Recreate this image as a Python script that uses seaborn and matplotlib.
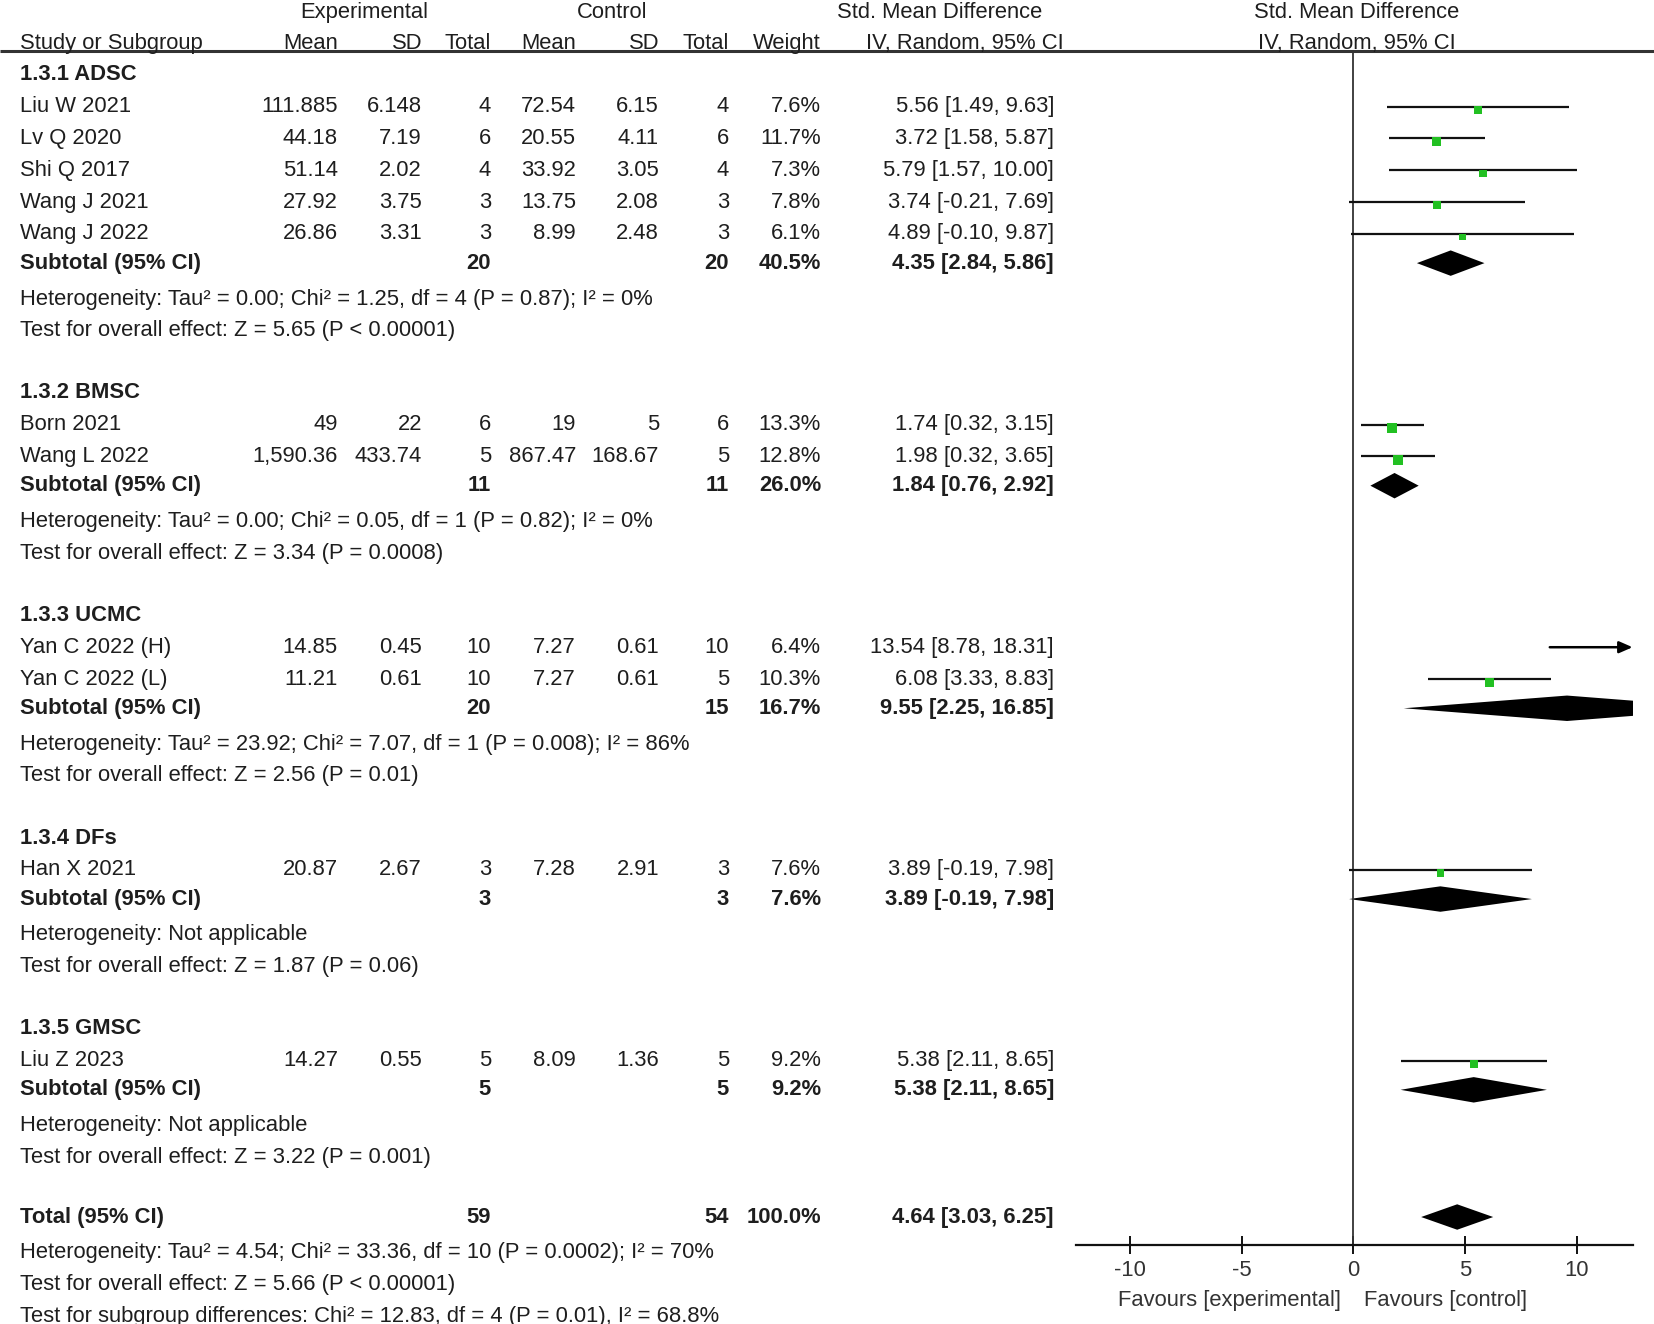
import matplotlib
matplotlib.use("Agg")
import matplotlib.pyplot as plt
import matplotlib.transforms as mtransforms
import seaborn as sns
import pandas as pd

# ---- data ----
group_names = ["1.3.1 ADSC", "1.3.2 BMSC", "1.3.3 UCMC", "1.3.4 DFs", "1.3.5 GMSC"]

study_names = ["Liu W 2021", "Lv Q 2020", "Shi Q 2017", "Wang J 2021", "Wang J 2022",
               "Born 2021", "Wang L 2022", "Yan C 2022 (H)", "Yan C 2022 (L)",
               "Han X 2021", "Liu Z 2023"]
study_group = [0, 0, 0, 0, 0, 1, 1, 2, 2, 3, 4]
exp_mean = ["111.885", "44.18", "51.14", "27.92", "26.86", "49", "1,590.36",
            "14.85", "11.21", "20.87", "14.27"]
exp_sd = ["6.148", "7.19", "2.02", "3.75", "3.31", "22", "433.74",
          "0.45", "0.61", "2.67", "0.55"]
exp_n = [4, 6, 4, 3, 3, 6, 5, 10, 10, 3, 5]
ctl_mean = ["72.54", "20.55", "33.92", "13.75", "8.99", "19", "867.47",
            "7.27", "7.27", "7.28", "8.09"]
ctl_sd = ["6.15", "4.11", "3.05", "2.08", "2.48", "5", "168.67",
          "0.61", "0.61", "2.91", "1.36"]
ctl_n = [4, 6, 4, 3, 3, 6, 5, 10, 5, 3, 5]
weight = [7.6, 11.7, 7.3, 7.8, 6.1, 13.3, 12.8, 6.4, 10.3, 7.6, 9.2]
smd = [5.56, 3.72, 5.79, 3.74, 4.89, 1.74, 1.98, 13.54, 6.08, 3.89, 5.38]
ci_lo = [1.49, 1.58, 1.57, -0.21, -0.10, 0.32, 0.32, 8.78, 3.33, -0.19, 2.11]
ci_hi = [9.63, 5.87, 10.00, 7.69, 9.87, 3.15, 3.65, 18.31, 8.83, 7.98, 8.65]

sub_exp_n = [20, 11, 20, 3, 5]
sub_ctl_n = [20, 11, 15, 3, 5]
sub_weight = [40.5, 26.0, 16.7, 7.6, 9.2]
sub_smd = [4.35, 1.84, 9.55, 3.89, 5.38]
sub_lo = [2.84, 0.76, 2.25, -0.19, 2.11]
sub_hi = [5.86, 2.92, 16.85, 7.98, 8.65]
sub_het = ["Heterogeneity: Tau² = 0.00; Chi² = 1.25, df = 4 (P = 0.87); I² = 0%",
           "Heterogeneity: Tau² = 0.00; Chi² = 0.05, df = 1 (P = 0.82); I² = 0%",
           "Heterogeneity: Tau² = 23.92; Chi² = 7.07, df = 1 (P = 0.008); I² = 86%",
           "Heterogeneity: Not applicable",
           "Heterogeneity: Not applicable"]
sub_test = ["Test for overall effect: Z = 5.65 (P < 0.00001)",
            "Test for overall effect: Z = 3.34 (P = 0.0008)",
            "Test for overall effect: Z = 2.56 (P = 0.01)",
            "Test for overall effect: Z = 1.87 (P = 0.06)",
            "Test for overall effect: Z = 3.22 (P = 0.001)"]

total_exp_n = 59
total_ctl_n = 54
total_weight = 100.0
total_smd, total_lo, total_hi = 4.64, 3.03, 6.25
total_notes = ["Heterogeneity: Tau² = 4.54; Chi² = 33.36, df = 10 (P = 0.0002); I² = 70%",
               "Test for overall effect: Z = 5.66 (P < 0.00001)",
               "Test for subgroup differences: Chi² = 12.83, df = 4 (P = 0.01), I² = 68.8%"]

x_ticks = [-10, -5, 0, 5, 10]
favours = ["Favours [experimental]", "Favours [control]"]

# ---- style ----
sns.set_style("white")
plt.rcParams["font.family"] = ["Liberation Sans", "DejaVu Sans"]
FS = 15.8
TXT = "#1e1e1e"
GREEN = "#22c022"

W, H = 1654, 1324
fig = plt.figure(figsize=(W / 100, H / 100), dpi=100)

y_top = -2.355          # row value at top of figure
y_axis = 36.8           # row where the x-axis sits
ax = fig.add_axes([1076 / W, 1 - 1245 / H, (1633 - 1076) / W, 1245 / H])
ax.set_xlim(-12.4, 12.5)
ax.set_ylim(y_axis, y_top)

# column anchors, figure fraction (right aligned unless noted)
col = {"study": 20, "em": 338, "esd": 422, "en": 491, "cm": 576, "csd": 659,
       "cn": 729, "w": 821, "ci": 1054}
col = {k: v / W for k, v in col.items()}
tr = mtransforms.blended_transform_factory(fig.transFigure, ax.transData)


def put(x, y, s, ha="right", bold=False):
    ax.text(x, y, s, transform=tr, ha=ha, va="center", fontsize=FS, color=TXT,
            fontweight="bold" if bold else "normal", clip_on=False)


def ci_text(m, lo, hi):
    return f"{m:.2f} [{lo:.2f}, {hi:.2f}]"


# header
put(364 / W, -1.97, "Experimental", ha="center")
put(612 / W, -1.97, "Control", ha="center")
put(940 / W, -1.97, "Std. Mean Difference", ha="center")
ax.text(0.15, -1.97, "Std. Mean Difference", ha="center", va="center",
        fontsize=FS, color=TXT, clip_on=False)
hy = -1.0
put(col["study"], hy, "Study or Subgroup", ha="left")
for key, lab in [("em", "Mean"), ("esd", "SD"), ("en", "Total"), ("cm", "Mean"),
                 ("csd", "SD"), ("cn", "Total"), ("w", "Weight")]:
    put(col[key], hy, lab)
put(1064 / W, hy, "IV, Random, 95% CI")
ax.text(0.15, hy, "IV, Random, 95% CI", ha="center", va="center",
        fontsize=FS, color=TXT, clip_on=False)
ax.plot([0, 1], [-0.76, -0.76], transform=tr, color="#333333", lw=2.2,
        clip_on=False, solid_capstyle="butt")

# ---- rows ----
study_rows = []
sub_rows = []
row = 0
for g, gname in enumerate(group_names):
    put(col["study"], row, gname, ha="left", bold=True)
    row += 1
    for i in [k for k, sg in enumerate(study_group) if sg == g]:
        put(col["study"], row, study_names[i], ha="left")
        put(col["em"], row, exp_mean[i])
        put(col["esd"], row, exp_sd[i])
        put(col["en"], row, str(exp_n[i]))
        put(col["cm"], row, ctl_mean[i])
        put(col["csd"], row, ctl_sd[i])
        put(col["cn"], row, str(ctl_n[i]))
        put(col["w"], row, f"{weight[i]:.1f}%")
        put(col["ci"], row, ci_text(smd[i], ci_lo[i], ci_hi[i]))
        study_rows.append(row)
        row += 1
    sr = row - 0.08
    put(col["study"], sr, "Subtotal (95% CI)", ha="left", bold=True)
    put(col["en"], sr, str(sub_exp_n[g]), bold=True)
    put(col["cn"], sr, str(sub_ctl_n[g]), bold=True)
    put(col["w"], sr, f"{sub_weight[g]:.1f}%", bold=True)
    put(col["ci"], sr, ci_text(sub_smd[g], sub_lo[g], sub_hi[g]), bold=True)
    sub_rows.append(sr)
    put(col["study"], row + 1.05, sub_het[g], ha="left")
    put(col["study"], row + 2.05, sub_test[g], ha="left")
    row += 4

tr_row = row - 0.08
put(col["study"], tr_row, "Total (95% CI)", ha="left", bold=True)
put(col["en"], tr_row, str(total_exp_n), bold=True)
put(col["cn"], tr_row, str(total_ctl_n), bold=True)
put(col["w"], tr_row, f"{total_weight:.1f}%", bold=True)
put(col["ci"], tr_row, ci_text(total_smd, total_lo, total_hi), bold=True)
for k, note in enumerate(total_notes):
    put(col["study"], row + 1.05 + k, note, ha="left")

# ---- forest marks ----
xmin, xmax = ax.get_xlim()
ax.vlines(0, -0.76, y_axis, color="#333333", lw=1.3)

for i, r in enumerate(study_rows):
    if ci_hi[i] > xmax:
        ax.annotate("", xy=(xmax - 0.02, r), xytext=(ci_lo[i], r),
                    arrowprops=dict(arrowstyle="-|>,head_length=0.8,head_width=0.35",
                                    color="black", lw=1.8, shrinkA=0, shrinkB=0))
    else:
        ax.hlines(r, ci_lo[i], ci_hi[i], color="#111111", lw=1.6)

sq = pd.DataFrame({"smd": smd, "row": [r + 0.1 for r in study_rows], "weight": weight})
sns.scatterplot(data=sq, x="smd", y="row", size="weight", sizes=(24, 52), marker="s",
                color=GREEN, edgecolor="none", legend=False, ax=ax, zorder=3)

diamond_h = 0.4
for m, lo, hi, r in list(zip(sub_smd, sub_lo, sub_hi, sub_rows)) + \
        [(total_smd, total_lo, total_hi, tr_row)]:
    ax.fill([lo, m, hi, m], [r, r - diamond_h, r, r + diamond_h], color="black", lw=0)

# ---- axis styling ----
for s in ["top", "left", "right"]:
    ax.spines[s].set_visible(False)
ax.spines["bottom"].set_color("#111111")
ax.spines["bottom"].set_linewidth(1.6)
ax.set_yticks([])
ax.set_xticks(x_ticks)
ax.set_xticklabels([str(t) for t in x_ticks])
ax.tick_params(axis="x", direction="inout", length=13, width=1.4, pad=4,
               labelsize=FS, labelcolor="#333333", color="#111111", bottom=True)
ax.set_xlabel("")
ax.set_ylabel("")
ax.text(-0.56, 38.54, favours[0], ha="right", va="center", fontsize=FS,
        color="#333333", clip_on=False)
ax.text(0.46, 38.54, favours[1], ha="left", va="center", fontsize=FS,
        color="#333333", clip_on=False)

fig.savefig("out.png", dpi=100, facecolor="white")
